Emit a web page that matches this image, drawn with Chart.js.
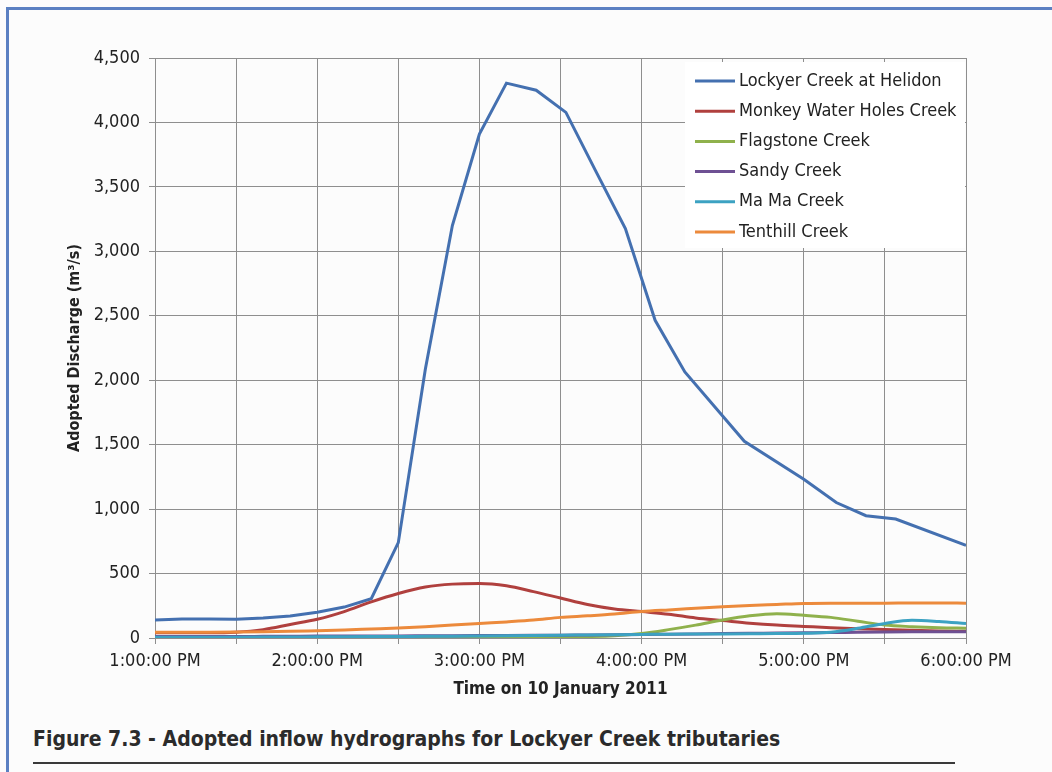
<!DOCTYPE html>
<html>
<head>
<meta charset="utf-8">
<script src="https://cdn.jsdelivr.net/npm/chart.js@4.4.0/dist/chart.umd.min.js"></script>
<style>
  html, body { margin: 0; padding: 0; }
  body { width: 1052px; height: 772px; background: #fcfcfc; position: relative; overflow: hidden;
         font-family: 'DejaVu Sans Condensed', 'DejaVu Sans', sans-serif; }
  #frameTop { position: absolute; left: 6px; top: 7px; width: 1046px; height: 3px; background: #5b80c2; }
  #frameLeft { position: absolute; left: 6px; top: 7px; width: 3px; height: 765px; background: #5b80c2; }
  #chartBox { position: absolute; left: 0; top: 0; width: 1052px; height: 720px; }
  #caption { position: absolute; left: 33px; top: 727px; font-size: 21px; font-weight: bold; color: #2b2b2b; white-space: nowrap; }
  #rule { position: absolute; left: 33px; top: 762px; width: 922px; height: 2px; background: #3a3a3a; }
</style>
</head>
<body>
<div id="frameTop"></div>
<div id="frameLeft"></div>
<div id="chartBox"><canvas id="hydro"></canvas></div>
<div id="caption">Figure 7.3 - Adopted inflow hydrographs for Lockyer Creek tributaries</div>
<div id="rule"></div>
<script>
// minutes after 1:00 PM
var times = [0, 10, 20, 30, 40, 50, 60, 70, 80, 90, 100, 110, 120, 130, 140, 150,
             160, 170, 180, 190, 200, 210, 220, 230, 240, 250, 260, 270, 280, 290, 300];
var lockyerTimes = [0, 10, 20, 30, 40, 50, 60, 70, 80, 90, 100, 110, 120, 130, 141, 152,
                    163, 174, 185, 196, 218, 240, 252, 263, 274, 300];

var lockyer   = [140, 147, 147, 146, 155, 170, 200, 240, 305, 740, 2085, 3200, 3910, 4305, 4250, 4078,
                 3624, 3176, 2465, 2064, 1526, 1231, 1051, 949, 923, 718];
var monkey    = [40, 40, 40, 45, 65, 105, 145, 205, 280, 345, 395, 418, 423, 405, 360, 310,
                 260, 225, 205, 185, 155, 135, 115, 100, 90, 80, 72, 65, 60, 55, 52];
var flagstone = [8, 8, 8, 8, 8, 8, 8, 8, 8, 8, 8, 8, 8, 8, 9, 10,
                 12, 18, 35, 65, 100, 140, 172, 188, 176, 160, 130, 100, 88, 80, 76];
var sandy     = [12, 12, 12, 12, 13, 14, 15, 15, 16, 16, 17, 18, 19, 20, 21, 22,
                 24, 26, 28, 30, 32, 34, 36, 38, 40, 42, 45, 47, 48, 48, 48];
var mama      = [5, 5, 5, 6, 7, 8, 9, 10, 11, 12, 13, 14, 16, 18, 20, 22,
                 24, 26, 28, 30, 31, 32, 33, 34, 36, 45, 75, 113, 138, 128, 112];
var tenthill  = [45, 45, 45, 46, 48, 52, 57, 62, 70, 78, 88, 100, 113, 125, 139, 160,
                 172, 186, 205, 218, 230, 242, 252, 260, 268, 270, 270, 270, 272, 272, 270];

var seriesNames = ['Lockyer Creek at Helidon', 'Monkey Water Holes Creek', 'Flagstone Creek',
                   'Sandy Creek', 'Ma Ma Creek', 'Tenthill Creek'];
var seriesColors = ['#4470b0', '#b0403e', '#8fb14c', '#6e5093', '#3ca2c2', '#ec8a3c'];
var hourLabels = ['1:00:00 PM', '2:00:00 PM', '3:00:00 PM', '4:00:00 PM', '5:00:00 PM', '6:00:00 PM'];

var FONT = "'DejaVu Sans Condensed', 'DejaVu Sans', sans-serif";

function pts(xs, ys) {
  var out = [];
  for (var i = 0; i < ys.length; i++) out.push({ x: xs[i], y: ys[i] });
  return out;
}

var allData = [pts(lockyerTimes, lockyer), pts(times, monkey), pts(times, flagstone),
               pts(times, sandy), pts(times, mama), pts(times, tenthill)];

var datasets = allData.map(function (d, i) {
  return {
    label: seriesNames[i],
    data: d,
    borderColor: seriesColors[i],
    backgroundColor: seriesColors[i],
    borderWidth: 3,
    pointRadius: 0,
    tension: i === 0 ? 0 : 0.4,
    cubicInterpolationMode: i === 0 ? 'default' : 'monotone',
    order: 6 - i
  };
});

// legend drawn inside the plot, top right
var insideLegend = {
  id: 'insideLegend',
  afterDatasetsDraw: function (chart) {
    var ctx = chart.ctx, a = chart.chartArea;
    ctx.save();
    ctx.fillStyle = '#ffffff';
    ctx.fillRect(a.right - 281, a.top + 4, 280, 186);
    ctx.font = '18px ' + FONT;
    ctx.textBaseline = 'middle';
    for (var i = 0; i < seriesNames.length; i++) {
      var y = a.top + 23 + i * 30.2;
      ctx.strokeStyle = seriesColors[i];
      ctx.lineWidth = 3;
      ctx.beginPath();
      ctx.moveTo(a.right - 271, y);
      ctx.lineTo(a.right - 231, y);
      ctx.stroke();
      ctx.fillStyle = '#222';
      ctx.fillText(seriesNames[i], a.right - 227, y);
    }
    ctx.restore();
  }
};

new Chart(document.getElementById('hydro'), {
  type: 'line',
  data: { datasets: datasets },
  plugins: [insideLegend],
  options: {
    responsive: true,
    maintainAspectRatio: false,
    animation: false,
    layout: { padding: { left: 60, top: 58, right: 86, bottom: 12 } },
    plugins: { legend: { display: false }, tooltip: { enabled: false } },
    scales: {
      x: {
        type: 'linear',
        min: 0, max: 300,
        afterFit: function (s) { s.height = 70; },
        ticks: {
          stepSize: 30, autoSkip: false, maxRotation: 0, padding: 7,
          color: '#222', font: { family: FONT, size: 18 },
          callback: function (v) { return v % 60 === 0 ? hourLabels[v / 60] : ''; }
        },
        grid: { color: '#8e8e8e', lineWidth: 1, tickLength: 6 },
        border: { color: '#8e8e8e' },
        title: { display: true, text: 'Time on 10 January 2011', color: '#222',
                 font: { family: FONT, size: 17, weight: 'bold' }, padding: { bottom: 8 } }
      },
      y: {
        min: 0, max: 4500,
        afterFit: function (s) { s.width = 95; },
        ticks: {
          stepSize: 500, padding: 9, color: '#222', font: { family: FONT, size: 18 },
          callback: function (v) { return v.toLocaleString('en-US'); }
        },
        grid: { color: '#8e8e8e', lineWidth: 1, tickLength: 6 },
        border: { color: '#8e8e8e' },
        title: { display: true, text: 'Adopted Discharge (m³/s)', color: '#222',
                 font: { family: FONT, size: 16, weight: 'bold' }, padding: { top: 5 } }
      }
    }
  }
});
</script>
</body>
</html>
